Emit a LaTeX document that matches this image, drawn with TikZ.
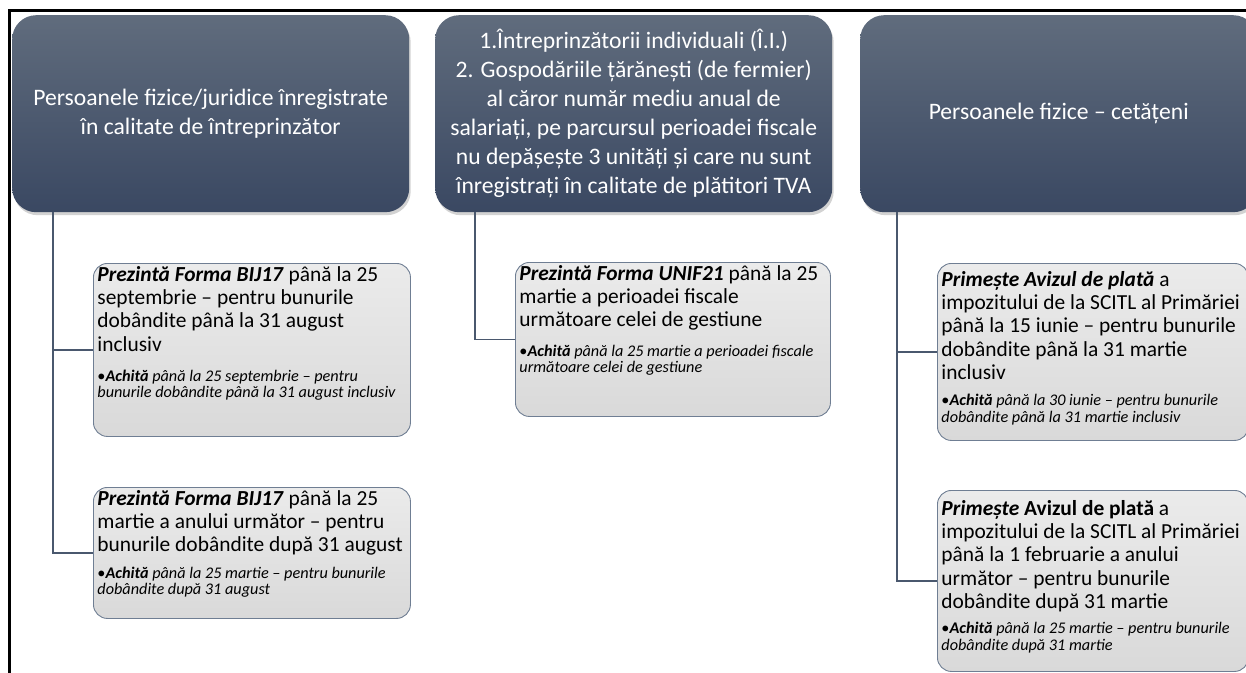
\documentclass[tikz,border=0pt]{standalone}
\usepackage{fontspec}
\setmainfont{Carlito}
\usetikzlibrary{shadows}
\definecolor{hdtop}{HTML}{606C7D}
\definecolor{hdbot}{HTML}{3A4862}
\definecolor{lnk}{HTML}{4A586E}
\definecolor{chbd}{HTML}{6F7E93}
\definecolor{chtop}{HTML}{EBEBEB}
\definecolor{chbot}{HTML}{D9D9D9}
% #1 width, #2 height, #3 top pad, #4 gap, #5 main text, #6 sub text
\newcommand\leafbox[6]{\parbox[t][#2][t]{#1}{\raggedright\lineskiplimit=-100pt\hfuzz=20pt
  \vspace*{#3}\fontsize{21.5}{23.3}\selectfont\rule{0pt}{16bp}#5\par\vspace{#4}%
  \fontsize{16.3}{16.5}\selectfont\itshape\setbox0\hbox{\upshape •}\hangindent\wd0 \hangafter1 \noindent{\upshape •}#6\par}}
\tikzset{
 head/.style={rounded corners=24bp, top color=hdtop, bottom color=hdbot, draw=none, text=white, align=center,
   font=\fontsize{23.7}{29}\selectfont, minimum width=397bp, minimum height=197bp, inner sep=0pt, anchor=north west,
   drop shadow={opacity=0.35, shadow xshift=1.5bp, shadow yshift=-3bp}},
 leaf/.style={rounded corners=14bp, top color=chtop, bottom color=chbot, draw=chbd, line width=0.9bp,
   anchor=north west, inner xsep=4bp, inner ysep=2bp},
 link/.style={draw=lnk, line width=1.6bp},
 frame/.style={draw=black, line width=2.6bp},
}
\begin{document}
\begin{tikzpicture}[x=1bp,y=-1bp]
\path[use as bounding box, clip] (0,0) rectangle (1246,673);
\fill[white] (0,0) rectangle (1246,673);
\draw[frame] (9.5,673) -- (9.5,10.5) -- (1246,10.5);

\node[head] (h1) at (12,15) {Persoanele fizice/juridice înregistrate\\în calitate de întreprinzător};
\node[head] (h2) at (435,15) {1.Întreprinzătorii individuali (Î.I.)\\2. Gospodăriile țărănești (de fermier)\\al căror număr mediu anual de\\salariați, pe parcursul perioadei fiscale\\nu depășește 3 unități și care nu sunt\\înregistrați în calitate de plătitori TVA};
\node[head] (h3) at (860,15) {Persoanele fizice – cetățeni};

\node[leaf] (l1) at (93,263) {\leafbox{309bp}{169bp}{0bp}{14bp}{\textbf{\textit{Prezintă Forma BIJ17}} până la 25\\septembrie – pentru bunurile\\dobândite până la 31 august\\inclusiv}{\textbf{Achită} până la 25 septembrie – pentru\\bunurile dobândite până la 31 august inclusiv}};
\node[leaf] (l2) at (93,487) {\leafbox{309bp}{127bp}{0bp}{10bp}{\textbf{\textit{Prezintă Forma BIJ17}} până la 25\\martie a anului următor – pentru\\bunurile dobândite după 31 august}{\textbf{Achită} până la 25 martie – pentru bunurile\\dobândite după 31 august}};
\node[leaf] (m1) at (515,262) {\leafbox{307bp}{150bp}{0bp}{13bp}{\textbf{\textit{Prezintă Forma UNIF21}} până la 25\\martie a perioadei fiscale\\următoare celei de gestiune}{\textbf{Achită} până la 25 martie a perioadei fiscale\\următoare celei de gestiune}};
\node[leaf] (r1) at (937,263) {\leafbox{303bp}{173bp}{5bp}{10bp}{\textbf{\textit{Primește Avizul de plată}} a\\impozitului de la SCITL al Primăriei\\până la 15 iunie – pentru bunurile\\dobândite până la 31 martie\\inclusiv}{\textbf{Achită} până la 30 iunie – pentru bunurile\\dobândite până la 31 martie inclusiv}};
\node[leaf] (r2) at (937,490) {\leafbox{303bp}{177bp}{7bp}{9bp}{\textbf{\textit{Primește}} \textbf{Avizul de plată} a\\impozitului de la SCITL al Primăriei\\până la 1 februarie a anului\\următor – pentru bunurile\\dobândite după 31 martie}{\textbf{Achită} până la 25 martie – pentru bunurile\\dobândite după 31 martie}};

\draw[link] ([xshift=41bp]h1.south west) |- (l1.west);
\draw[link] ([xshift=41bp]h1.south west) |- (l2.west);
\draw[link] ([xshift=40bp]h2.south west) |- (m1.west);
\draw[link] ([xshift=37bp]h3.south west) |- (r1.west);
\draw[link] ([xshift=37bp]h3.south west) |- (r2.west);
\end{tikzpicture}
\end{document}
